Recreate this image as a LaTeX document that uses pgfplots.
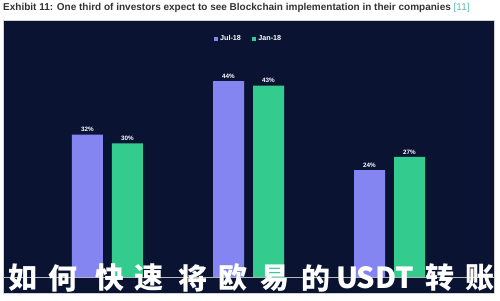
\documentclass[border=0pt]{standalone}
\usepackage{pgfplots}
\pgfplotsset{compat=1.18}
\usepackage{fontspec}
\setmainfont{Liberation Sans}
\newfontfamily\cjk{Noto Sans CJK SC}

\definecolor{panel}{HTML}{0B1333}
\definecolor{julc}{HTML}{8585F2}
\definecolor{janc}{HTML}{34CC8E}
\definecolor{titlec}{HTML}{333333}
\definecolor{refc}{HTML}{5CC0B5}

\begin{document}
\begin{tikzpicture}[x=1pt,y=1pt]
\useasboundingbox (0,0) rectangle (500,300);
\fill[white] (0,0) rectangle (500,300);
% dark chart panel
\fill[panel] (3,7) rectangle (494,280);
\draw[gray!35,line width=0.6pt] (3,7) rectangle (494,280);

% heading
\node[anchor=base west,inner sep=0pt,text=titlec,font=\fontsize{10}{11}\selectfont\bfseries]
  at (3,289.5) {Exhibit 11: One third of investors expect to see Blockchain implementation in their companies \textcolor{refc}{\mdseries[11]}};

\begin{axis}[
  at={(3pt,23pt)}, anchor=south west,
  scale only axis, width=491pt, height=257pt,
  xmin=-0.741, xmax=2.741, ymin=0, ymax=57.75,
  axis y line=none, axis x line*=bottom,
  x axis line style={gray!55,line width=0.5pt,-},
  xtick=\empty, ytick=\empty,
  ybar=9pt, bar width=31pt,
  /pgf/number format/assume math mode=true,
  nodes near coords={\pgfmathprintnumber{\pgfplotspointmeta}\%},
  every node near coord/.append style={text=white,font=\fontsize{6.3}{7}\selectfont\bfseries,inner sep=2.5pt},
  legend columns=2,
  legend style={at={(0.5,0.926)},anchor=center,draw=none,fill=none,
    text=white,font=\fontsize{7.2}{8}\selectfont\bfseries,
    /tikz/every even column/.append style={column sep=9pt}},
  legend image code/.code={\fill[#1,draw=none] (0pt,-2.2pt) rectangle (4.4pt,2.2pt);},
]
\addplot[fill=julc,draw=none] coordinates {(0,32) (1,44) (2,24)};
\addplot[fill=janc,draw=none] coordinates {(0,30) (1,43) (2,27)};
\legend{Jul-18,Jan-18}
\end{axis}

% caption banner across the bottom
\begin{scope}[every node/.style={text=white,font=\cjk\bfseries\fontsize{29}{30}\selectfont,inner sep=0pt,anchor=center}]
\node at (-12,22) {币};
\node at (23,22) {如};
\node at (63,22) {何};
\node at (110,22) {快};
\node at (149,22) {速};
\node at (193,22) {将};
\node at (233,22) {欧};
\node at (275,22) {易};
\node at (316,22) {的};
\node at (348,22) {U};
\node at (366,22) {S};
\node at (386,22) {D};
\node at (405,22) {T};
\node at (440,22) {转};
\node at (480,22) {账};
\end{scope}
\end{tikzpicture}
\end{document}
